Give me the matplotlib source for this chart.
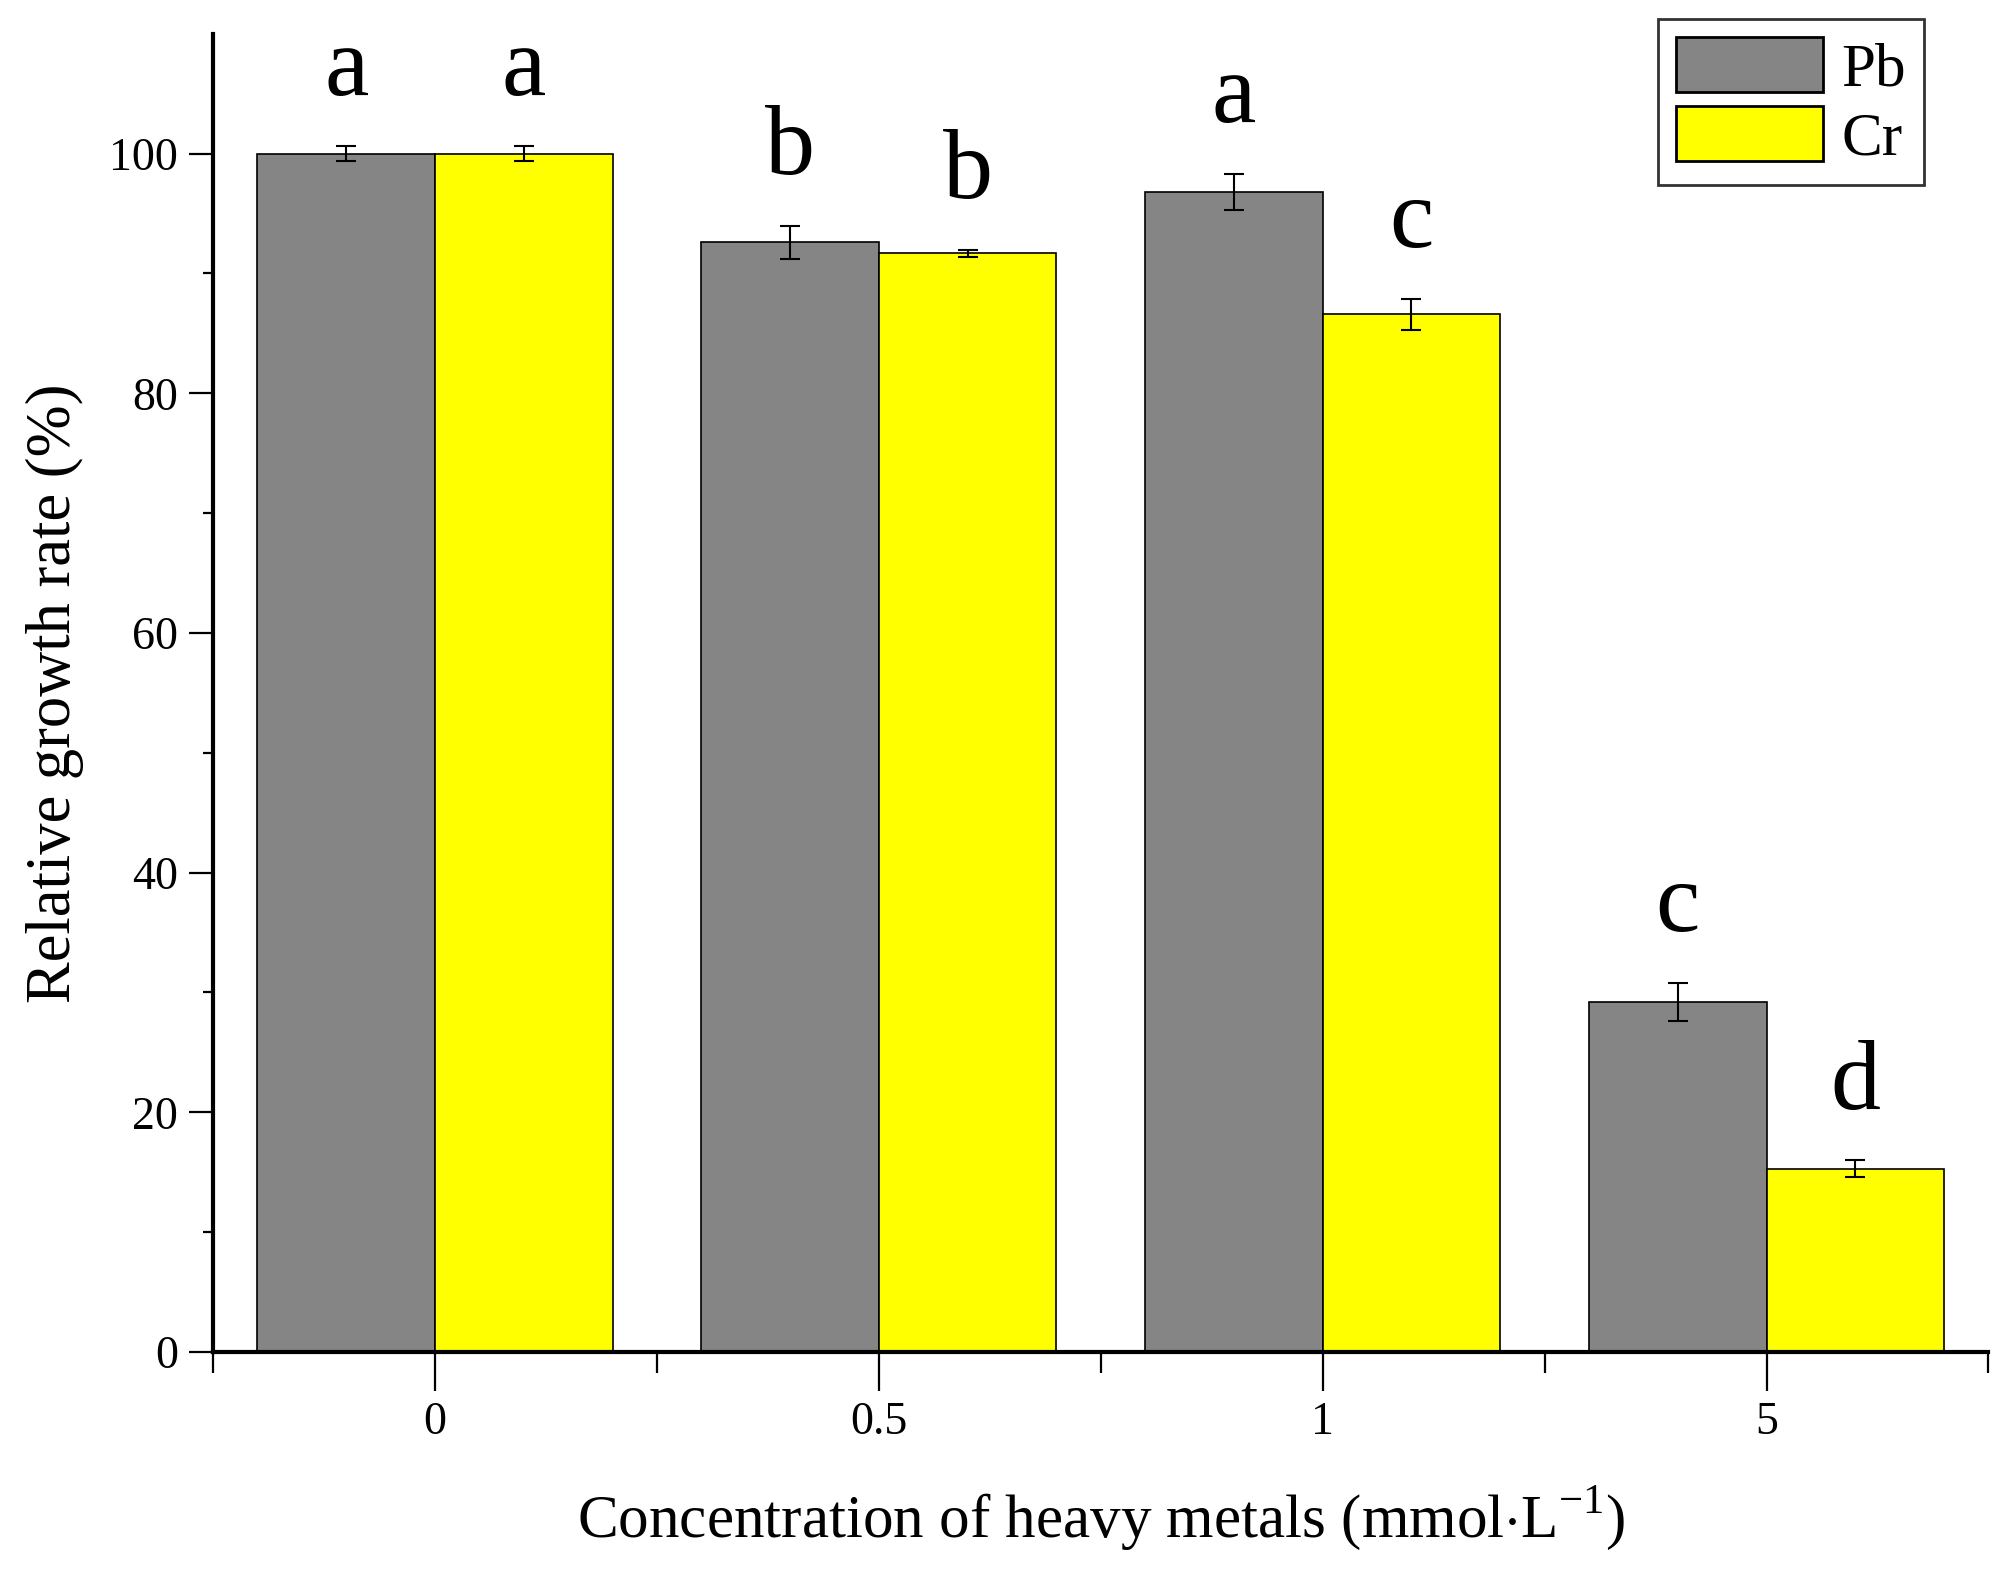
import matplotlib
matplotlib.use('Agg')
import matplotlib.pyplot as plt
import numpy as np
from matplotlib.ticker import FixedLocator

# data
concentrations = ['0', '0.5', '1', '5']
pb_mean = [100.0, 92.6, 96.8, 29.2]
pb_err = [0.6, 1.4, 1.5, 1.6]
cr_mean = [100.0, 91.7, 86.6, 15.3]
cr_err = [0.6, 0.3, 1.3, 0.7]
pb_letters = ['a', 'b', 'a', 'c']
cr_letters = ['a', 'b', 'c', 'd']

plt.rcParams['font.family'] = ['Liberation Serif', 'DejaVu Serif']
plt.rcParams['mathtext.fontset'] = 'custom'
plt.rcParams['mathtext.rm'] = 'Liberation Serif'

fig = plt.figure(figsize=[20.14, 15.73], dpi=100)
ax = fig.add_axes([0.1058, 0.1405, 0.8815, 0.838])

x = np.arange(len(concentrations))
w = 0.4
ax.bar(x - w/2, pb_mean, w, color='#858585', edgecolor='black', linewidth=1.2, label='Pb')
ax.bar(x + w/2, cr_mean, w, color='#FFFF00', edgecolor='black', linewidth=1.2, label='Cr')
ax.errorbar(x - w/2, pb_mean, yerr=pb_err, fmt='none', ecolor='black', elinewidth=1.5, capsize=7, capthick=1.5)
ax.errorbar(x + w/2, cr_mean, yerr=cr_err, fmt='none', ecolor='black', elinewidth=1.5, capsize=7, capthick=1.5)

# significance letters above each bar
for i in range(len(x)):
    ax.text(x[i] - w/2, pb_mean[i] + pb_err[i] + 4.3, pb_letters[i], ha='center', va='baseline', fontsize=72)
    ax.text(x[i] + w/2, cr_mean[i] + cr_err[i] + 4.3, cr_letters[i], ha='center', va='baseline', fontsize=72)

ax.set_xlim(-0.5, 3.5)
ax.set_ylim(0, 110)
ax.set_xticks(x)
ax.set_xticklabels(concentrations)
ax.xaxis.set_minor_locator(FixedLocator([-0.5, 0.5, 1.5, 2.5, 3.5]))
ax.set_yticks([0, 20, 40, 60, 80, 100])
ax.yaxis.set_minor_locator(FixedLocator([10, 30, 50, 70, 90]))

for s in ['top', 'right']:
    ax.spines[s].set_visible(False)
for s in ['left', 'bottom']:
    ax.spines[s].set_linewidth(3)

ax.tick_params(axis='x', which='major', direction='out', length=28, width=1.6, labelsize=33, pad=8)
ax.tick_params(axis='x', which='minor', direction='out', length=15, width=1.6)
ax.tick_params(axis='y', which='major', direction='out', length=17, width=1.6, labelsize=33, pad=8)
ax.tick_params(axis='y', which='minor', direction='out', length=7, width=1.6)

ax.set_xlabel('Concentration of heavy metals (mmol$\\cdot$L$^{-1}$)', fontsize=44, labelpad=29)
ax.set_ylabel('Relative growth rate (%)', fontsize=45, labelpad=18)

leg = ax.legend(loc='upper right', bbox_to_anchor=(0.9555, 0.988),
                bbox_transform=fig.transFigure, fontsize=44, frameon=True, fancybox=False,
                handlelength=2.4, handleheight=1.0, borderpad=0.3, labelspacing=0.12,
                handletextpad=0.3, borderaxespad=0)
leg.get_frame().set_edgecolor('black')
leg.get_frame().set_linewidth(2)
for p in leg.get_patches():
    p.set_linewidth(2)

plt.savefig('out.png', dpi=100)
